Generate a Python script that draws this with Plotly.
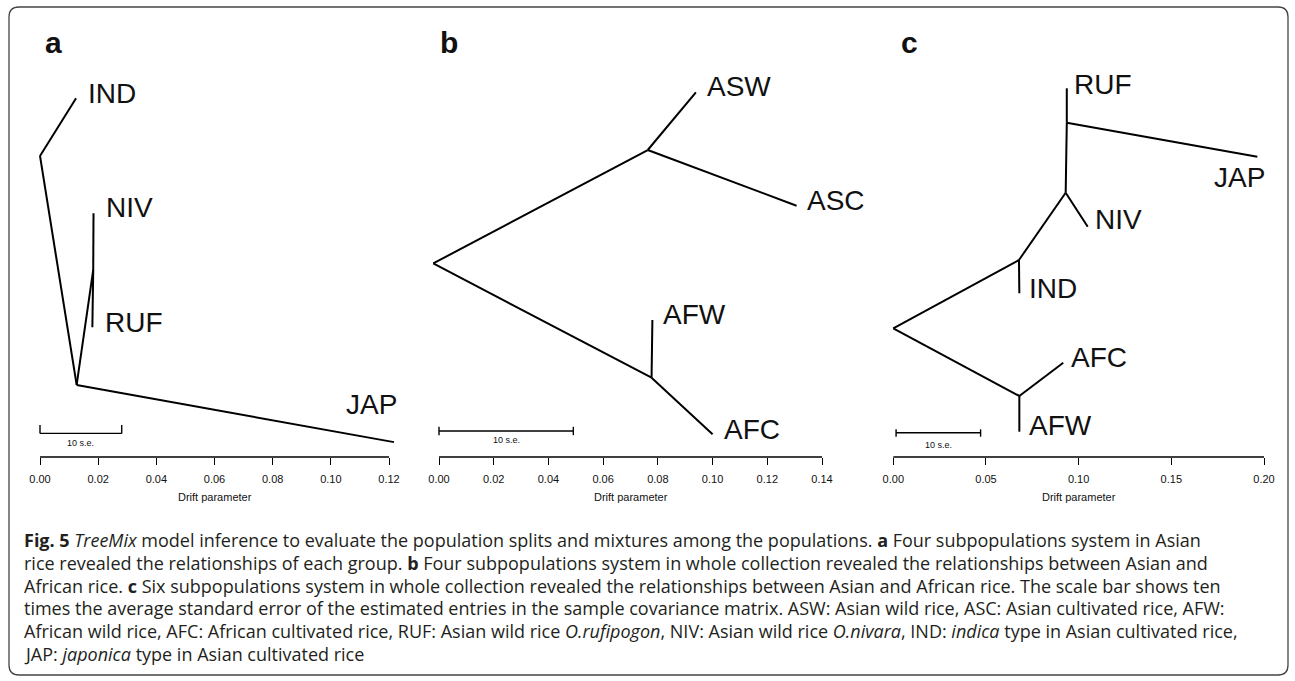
import plotly.graph_objects as go

W, H = 1295, 681

# ---------------- data (drift parameter on x, tree layout position on y) ----------------
# Panel a: four subpopulations in Asian rice
a_nodes = ["root", "IND", "n2", "JAP", "n3", "NIV", "RUF"]
a_x = [0.0, 0.0124, 0.0126, 0.1217, 0.0183, 0.0184, 0.0180]
a_y = [0.689, 0.821, 0.165, 0.034, 0.428, 0.558, 0.297]
a_edges = [("root", "IND"), ("root", "n2"), ("n2", "JAP"), ("n2", "n3"), ("n3", "NIV"), ("n3", "RUF")]
a_labels = ["IND", "NIV", "RUF", "JAP"]
a_label_x = [0.0158, 0.0220, 0.0216, 0.1045]
a_label_y = [0.831, 0.570, 0.307, 0.121]
a_ticks = [0.00, 0.02, 0.04, 0.06, 0.08, 0.10, 0.12]
a_scalebar = [0.0, 0.0281]

# Panel b: four subpopulations in whole collection
b_nodes = ["root", "AS", "ASW", "ASC", "AF", "AFW", "AFC"]
b_x = [-0.0021, 0.0763, 0.0939, 0.1307, 0.0777, 0.0780, 0.1000]
b_y = [0.443, 0.7025, 0.8346, 0.575, 0.1815, 0.3135, 0.052]
b_edges = [("root", "AS"), ("AS", "ASW"), ("AS", "ASC"), ("root", "AF"), ("AF", "AFW"), ("AF", "AFC")]
b_labels = ["ASW", "ASC", "AFW", "AFC"]
b_label_x = [0.0972, 0.1338, 0.0810, 0.1033]
b_label_y = [0.847, 0.586, 0.325, 0.064]
b_ticks = [0.00, 0.02, 0.04, 0.06, 0.08, 0.10, 0.12, 0.14]
b_scalebar = [0.0, 0.0491]

# Panel c: six subpopulations in whole collection
c_nodes = ["root", "nIND", "IND", "nNIV", "NIV", "nJAP", "RUF", "JAP", "nAF", "AFC", "AFW"]
c_x = [0.0, 0.0678, 0.0680, 0.0930, 0.1049, 0.0936, 0.0936, 0.1964, 0.0680, 0.0917, 0.0680]
c_y = [0.2945, 0.4508, 0.3746, 0.6048, 0.527, 0.765, 0.8437, 0.6872, 0.1396, 0.2158, 0.0579]
c_edges = [("root", "nIND"), ("nIND", "IND"), ("nIND", "nNIV"), ("nNIV", "NIV"), ("nNIV", "nJAP"),
           ("nJAP", "RUF"), ("nJAP", "JAP"), ("root", "nAF"), ("nAF", "AFC"), ("nAF", "AFW")]
c_labels = ["RUF", "JAP", "NIV", "IND", "AFC", "AFW"]
c_label_x = [0.0964, 0.2016, 0.1077, 0.0720, 0.0950, 0.0720]
c_label_y = [0.8535, 0.6407, 0.5446, 0.3867, 0.2288, 0.0732]
c_label_anchor = ["left", "right", "left", "left", "left", "left"]
c_ticks = [0.00, 0.05, 0.10, 0.15, 0.20]
c_scalebar = [0.0015, 0.0471]

caption_lines = [
    "<b>Fig. 5</b> <i>TreeMix</i> model inference to evaluate the population splits and mixtures among the populations. <b>a</b> Four subpopulations system in Asian",
    "rice revealed the relationships of each group. <b>b</b> Four subpopulations system in whole collection revealed the relationships between Asian and",
    "African rice. <b>c</b> Six subpopulations system in whole collection revealed the relationships between Asian and African rice. The scale bar shows ten",
    "times the average standard error of the estimated entries in the sample covariance matrix. ASW: Asian wild rice, ASC: Asian cultivated rice, AFW:",
    "African wild rice, AFC: African cultivated rice, RUF: Asian wild rice <i>O.rufipogon</i>, NIV: Asian wild rice <i>O.nivara</i>, IND: <i>indica</i> type in Asian cultivated rice,",
    "JAP: <i>japonica</i> type in Asian cultivated rice",
]

# ---------------- layout geometry (pixels) ----------------
AX_Y = 457      # axis line pixel row
TOP_Y = 20
panels = [
    dict(x0=40.0, s=349.0 / 0.12, dl=22, dr=412, letter="a", lx=43,
         nodes=a_nodes, x=a_x, y=a_y, edges=a_edges, labels=a_labels, lxs=a_label_x, lys=a_label_y,
         anchors=["left"] * 4, ticks=a_ticks, sb=a_scalebar, sb_y=0.054, sb_t=(0.054, 0.073), sb_ly=0.031),
    dict(x0=439.0, s=383.0 / 0.14, dl=422, dr=862, letter="b", lx=438,
         nodes=b_nodes, x=b_x, y=b_y, edges=b_edges, labels=b_labels, lxs=b_label_x, lys=b_label_y,
         anchors=["left"] * 4, ticks=b_ticks, sb=b_scalebar, sb_y=0.0595, sb_t=(0.050, 0.069), sb_ly=0.039),
    dict(x0=893.3, s=370.7 / 0.20, dl=877, dr=1282, letter="c", lx=899,
         nodes=c_nodes, x=c_x, y=c_y, edges=c_edges, labels=c_labels, lxs=c_label_x, lys=c_label_y,
         anchors=c_label_anchor, ticks=c_ticks, sb=c_scalebar, sb_y=0.0556, sb_t=(0.0465, 0.0634), sb_ly=0.028),
]

def px(xp):
    return xp / W

def py(yp):
    return 1 - yp / H

fig = go.Figure()
shapes = []
annotations = []
TXT = "#111111"
TICKFONT = dict(family="Liberation Sans, Arial, sans-serif", size=11, color=TXT)

for i, p in enumerate(panels):
    k = "" if i == 0 else str(i + 1)
    xa, ya = "x" + k, "y" + k
    idx = {n: j for j, n in enumerate(p["nodes"])}
    lx, ly = [], []
    for u, v in p["edges"]:
        lx += [p["x"][idx[u]], p["x"][idx[v]], None]
        ly += [p["y"][idx[u]], p["y"][idx[v]], None]
    fig.add_trace(go.Scatter(x=lx, y=ly, mode="lines", line=dict(color="black", width=2),
                             hoverinfo="skip", showlegend=False, xaxis=xa, yaxis=ya))
    for lab, tx, ty, an in zip(p["labels"], p["lxs"], p["lys"], p["anchors"]):
        annotations.append(dict(text=lab, x=tx, y=ty, xref=xa, yref=ya, xanchor=an, yanchor="middle",
                                showarrow=False, font=dict(family="Liberation Sans, Arial, sans-serif",
                                                          size=28, color=TXT)))
    s0, s1 = p["sb"]
    fig.add_trace(go.Scatter(x=[s0, s1, None, s0, s0, None, s1, s1],
                             y=[p["sb_y"], p["sb_y"], None, p["sb_t"][0], p["sb_t"][1], None,
                                p["sb_t"][0], p["sb_t"][1]],
                             mode="lines", line=dict(color="black", width=1.4),
                             hoverinfo="skip", showlegend=False, xaxis=xa, yaxis=ya))
    annotations.append(dict(text="10 s.e.", x=(s0 + s1) / 2, y=p["sb_ly"], xref=xa, yref=ya,
                            showarrow=False, xanchor="center", yanchor="middle",
                            font=dict(family="Liberation Sans, Arial, sans-serif", size=9, color=TXT)))
    rng = [(p["dl"] - p["x0"]) / p["s"], (p["dr"] - p["x0"]) / p["s"]]
    dom = [px(p["dl"]), px(p["dr"])]
    fig.update_layout(**{
        "xaxis" + k: dict(domain=dom, range=rng, anchor=ya, showgrid=False, zeroline=False,
                          showline=False, ticks="outside", ticklen=7, tickwidth=1.3, tickcolor="black",
                          tickvals=p["ticks"], ticktext=["%.2f" % t for t in p["ticks"]],
                          tickfont=TICKFONT, ticklabelstandoff=5, fixedrange=True),
        "yaxis" + k: dict(domain=[py(AX_Y), py(TOP_Y)], range=[0, 1], anchor=xa, visible=False,
                          fixedrange=True),
    })
    shapes.append(dict(type="line", xref=xa, yref=ya + " domain", x0=p["ticks"][0], x1=p["ticks"][-1],
                       y0=0, y1=0, line=dict(color="black", width=1.3)))
    annotations.append(dict(text="Drift parameter", x=(p["ticks"][0] + p["ticks"][-1]) / 2, xref=xa,
                            y=py(497), yref="paper", showarrow=False, xanchor="center", yanchor="middle",
                            font=dict(family="Liberation Sans, Arial, sans-serif", size=11, color=TXT)))
    annotations.append(dict(text="<b>%s</b>" % p["letter"], x=px(p["lx"]), y=py(42), xref="paper",
                            yref="paper", xanchor="left", yanchor="middle", showarrow=False,
                            font=dict(family="Liberation Sans, Arial, sans-serif", size=30, color=TXT)))

# caption
for j, line in enumerate(caption_lines):
    annotations.append(dict(text=line, x=px(22), y=py(540 + 22.8 * j), xref="paper", yref="paper",
                            xanchor="left", yanchor="middle", showarrow=False, align="left",
                            font=dict(family="Open Sans, Noto Sans, sans-serif", size=18, color="#231f20")))

# rounded frame
x0b, y0b, x1b, y1b, r = 9, 7, 1288, 675, 10
pts = [("M", x0b + r, y0b), ("L", x1b - r, y0b), ("Q", x1b, y0b, x1b, y0b + r), ("L", x1b, y1b - r),
       ("Q", x1b, y1b, x1b - r, y1b), ("L", x0b + r, y1b), ("Q", x0b, y1b, x0b, y1b - r),
       ("L", x0b, y0b + r), ("Q", x0b, y0b, x0b + r, y0b)]
path = ""
for seg in pts:
    cmd, vals = seg[0], seg[1:]
    coords = []
    for m in range(0, len(vals), 2):
        coords.append("%.6f,%.6f" % (px(vals[m]), py(vals[m + 1])))
    path += cmd + " ".join(coords) + " "
path += "Z"
shapes.append(dict(type="path", path=path, xref="paper", yref="paper",
                   line=dict(color="#444444", width=1.3)))

fig.update_layout(width=W, height=H, autosize=False, margin=dict(l=0, r=0, t=0, b=0),
                  paper_bgcolor="white", plot_bgcolor="white", shapes=shapes, annotations=annotations,
                  showlegend=False)

fig.write_html("out.html", config={"displayModeBar": False},
               post_script="document.body.style.margin='0';document.body.style.overflow='hidden';")
